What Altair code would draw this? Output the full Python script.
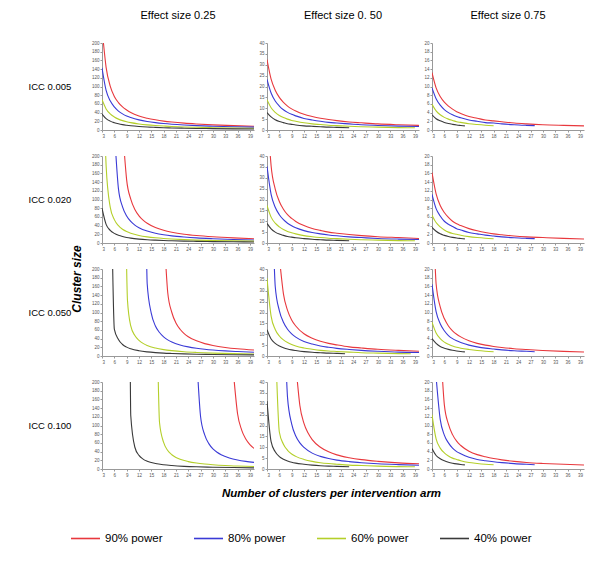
import altair as alt
import pandas as pd

ICC_LABELS = ["ICC 0.005", "ICC 0.020", "ICC 0.050", "ICC 0.100"]
EFFECT_LABELS = ["Effect size 0.25", "Effect size 0. 50", "Effect size 0.75"]
POWER_LABELS = ["90% power", "80% power", "60% power", "40% power"]
COLORS = ["#e8383d", "#3a3ad6", "#b4cf2a", "#3a3a3a"]
Y_MAX = [200, 40, 20]
Y_STEP = [20, 5, 2]
X_TICKS = [3, 6, 9, 12, 15, 18, 21, 24, 27, 30, 33, 36, 39]

# (clusters per arm, cluster size): 90%, 80%, 60%, 40% power
ES025_ICC005 = [
    [(3.35, 200), (4, 144), (5, 101), (6, 77), (7, 63), (8, 53), (9, 46), (10, 40), (12, 32), (14, 27), (16, 23.4), (18, 20.5), (20, 18.3), (23, 15.7), (26, 13.8), (30, 11.8), (35, 10), (40, 8.7)],
    [(3, 143), (4, 91), (5, 67), (6, 53), (7, 43.5), (8, 37), (9, 32), (10, 28.6), (12, 23.3), (14, 19.6), (16, 16.9), (18, 14.9), (20, 13.3), (23, 11.5), (26, 10.1), (30, 8.7), (35, 7.4), (40, 6.5)],
    [(3, 70), (4, 48.5), (5, 37), (6, 30), (7, 25), (8, 21.6), (9, 19), (10, 16.9), (12, 13.9), (14, 11.8), (16, 10.3), (18, 9.1), (20, 8.1), (23, 7), (26, 6.2), (30, 5.3), (35, 4.6), (40, 4)],
    [(3, 36.6), (4, 26.2), (5, 20.4), (6, 16.8), (7, 14.2), (8, 12.3), (9, 10.9), (10, 9.7), (12, 8), (14, 6.8), (16, 6), (18, 5.3), (20, 4.7), (23, 4.1), (26, 3.6), (30, 3.1), (35, 2.7), (40, 2.3)],
]
ES025_ICC020 = [
    [(8.5, 200), (9, 145), (10, 101), (11, 77), (12, 62.5), (13, 52.5), (14, 45.3), (16, 35.5), (18, 29.2), (20, 24.8), (23, 20.2), (26, 17.1), (30, 14.2), (35, 11.7), (40, 9.9)],
    [(6.4, 200), (7, 125), (8, 83), (9, 62), (10, 49.5), (11, 41.2), (12, 35.3), (14, 27.4), (16, 22.4), (18, 19), (20, 16.4), (23, 13.7), (26, 11.7), (30, 9.9), (35, 8.2), (40, 7)],
    [(3.9, 200), (4, 178), (5, 82.5), (6, 53.7), (7, 39.8), (8, 31.6), (9, 26.2), (10, 22.4), (12, 17.3), (14, 14.1), (16, 11.9), (18, 10.3), (20, 9.1), (23, 7.7), (26, 6.7), (30, 5.7), (35, 4.8), (40, 4.2)],
    [(3, 80), (4, 42.7), (5, 29.1), (6, 22.1), (7, 17.8), (8, 14.9), (9, 12.8), (10, 11.2), (12, 9), (14, 7.5), (16, 6.5), (18, 5.7), (20, 5), (23, 4.3), (26, 3.8), (30, 3.2), (35, 2.8), (40, 2.4)],
]
ES025_ICC050 = [
    [(18.6, 200), (19, 146), (20, 100), (21, 76), (22, 61.5), (23, 51.6), (24, 44.4), (26, 34.8), (28, 28.5), (30, 24.2), (33, 19.7), (36, 16.6), (40, 13.8)],
    [(13.9, 200), (14, 166), (15, 98), (16, 69), (17, 54), (18, 44), (19, 37), (20, 32), (22, 25.3), (24, 20.9), (26, 17.8), (28, 15.5), (30, 13.7), (33, 11.7), (36, 10.2), (40, 8.7)],
    [(9.0, 200), (9.2, 128), (10, 69), (11, 47), (12, 36), (13, 29), (14, 24.2), (16, 18.3), (18, 14.7), (20, 12.3), (23, 9.8), (26, 8.2), (30, 6.7), (35, 5.5), (40, 4.6)],
    [(5.6, 200), (6, 62), (7, 38), (8, 26.5), (9, 20.4), (10, 16.6), (12, 12.1), (14, 9.5), (16, 7.8), (18, 6.6), (20, 5.8), (23, 4.8), (26, 4.1), (30, 3.5), (35, 2.9), (40, 2.5)],
]
ES025_ICC100 = [
    [(35.2, 200), (36, 127), (37, 89.5), (38, 69), (39, 56), (40, 47.4)],
    [(26.4, 200), (27, 120), (28, 78.5), (29, 58.3), (30, 46.3), (31, 38.5), (32, 32.9), (34, 25.5), (36, 20.8), (38, 17.6), (40, 15.2)],
    [(16.7, 200), (17, 107), (18, 61), (19, 42.5), (20, 32.7), (21, 26.5), (22, 22.3), (24, 17), (26, 13.7), (28, 11.5), (30, 9.9), (33, 8.1), (36, 6.9), (40, 5.8)],
    [(9.9, 200), (10, 123), (11, 50), (12, 31.3), (13, 22.8), (14, 17.9), (16, 12.6), (18, 9.7), (20, 7.9), (23, 6.1), (26, 5), (30, 4.1), (35, 3.3), (40, 2.7)],
]
ES050_ICC005 = [
    [(3, 32.4), (4, 23.4), (5, 18.3), (6, 15), (7, 12.7), (8, 11), (9, 9.7), (10, 8.7), (12, 7.2), (14, 6.2), (16, 5.4), (18, 4.8), (20, 4.3), (23, 3.7), (26, 3.3), (30, 2.8), (35, 2.4), (40, 2.1)],
    [(3, 23.3), (4, 17), (5, 13.3), (6, 11), (7, 9.3), (8, 8.1), (9, 7.2), (10, 6.5), (12, 5.3), (14, 4.6), (16, 4), (18, 3.5), (20, 3.2), (23, 2.8), (26, 2.4), (30, 2.1), (35, 1.8), (40, 1.6)],
    [(3, 13.9), (4, 10.2), (5, 8.1), (6, 6.7), (7, 5.7), (8, 5), (9, 4.4), (10, 4), (12, 3.3), (14, 2.8), (16, 2.5), (18, 2.2), (20, 2), (23, 1.7), (26, 1.5), (30, 1.3), (35, 1.1), (39, 1)],
    [(3, 8), (4, 6), (5, 4.7), (6, 3.9), (7, 3.4), (8, 2.9), (9, 2.6), (10, 2.3), (12, 1.9), (14, 1.7), (16, 1.5), (18, 1.3), (20, 1.2), (23, 1)],
]
ES050_ICC020 = [
    [(3.8, 40), (4, 35.5), (5, 24.8), (6, 19.1), (7, 15.5), (8, 13), (9, 11.3), (10, 9.9), (12, 8), (14, 6.7), (16, 5.8), (18, 5), (20, 4.5), (23, 3.9), (26, 3.4), (30, 2.9), (35, 2.5), (40, 2.1)],
    [(3, 35.3), (4, 22.4), (5, 16.4), (6, 13), (7, 10.7), (8, 9.1), (9, 7.9), (10, 7), (12, 5.7), (14, 4.8), (16, 4.2), (18, 3.7), (20, 3.3), (23, 2.8), (26, 2.5), (30, 2.1), (35, 1.8), (40, 1.6)],
    [(3, 17.3), (4, 11.9), (5, 9.1), (6, 7.4), (7, 6.2), (8, 5.3), (9, 4.7), (10, 4.2), (12, 3.4), (14, 2.9), (16, 2.5), (18, 2.2), (20, 2), (23, 1.7), (26, 1.5), (30, 1.3), (35, 1.1), (39, 1)],
    [(3, 9), (4, 6.5), (5, 5), (6, 4.1), (7, 3.5), (8, 3), (9, 2.7), (10, 2.4), (12, 2), (14, 1.7), (16, 1.5), (18, 1.3), (20, 1.2), (23, 1)],
]
ES050_ICC050 = [
    [(6.3, 40), (7, 28.6), (8, 21), (9, 16.6), (10, 13.8), (12, 10.2), (14, 8.2), (16, 6.8), (18, 5.8), (20, 5.1), (23, 4.2), (26, 3.7), (30, 3.1), (35, 2.6), (40, 2.2)],
    [(4.8, 40), (5, 32.1), (6, 20.9), (7, 15.5), (8, 12.3), (9, 10.2), (10, 8.7), (12, 6.7), (14, 5.5), (16, 4.6), (18, 4), (20, 3.5), (23, 3), (26, 2.6), (30, 2.2), (35, 1.8), (40, 1.6)],
    [(3, 35.8), (4, 18.3), (5, 12.2), (6, 9.2), (7, 7.4), (8, 6.2), (9, 5.3), (10, 4.6), (12, 3.7), (14, 3.1), (16, 2.6), (18, 2.3), (20, 2.1), (23, 1.8), (26, 1.5), (30, 1.3), (35, 1.1), (38, 1)],
    [(3, 12.1), (4, 7.8), (5, 5.8), (6, 4.6), (7, 3.8), (8, 3.2), (9, 2.8), (10, 2.5), (12, 2), (14, 1.7), (16, 1.5), (18, 1.3), (20, 1.2), (22, 1.05)],
]
ES050_ICC100 = [
    [(10.4, 40), (11, 29.2), (12, 21), (13, 16.5), (14, 13.5), (16, 10), (18, 7.9), (20, 6.5), (23, 5.2), (26, 4.3), (30, 3.5), (35, 2.8), (40, 2.4)],
    [(7.8, 40), (8, 32.8), (9, 20.8), (10, 15.2), (11, 12), (12, 9.9), (14, 7.3), (16, 5.8), (18, 4.8), (20, 4.1), (23, 3.4), (26, 2.9), (30, 2.4), (35, 2), (40, 1.7)],
    [(5.4, 40), (6, 17), (7, 11.4), (8, 8.6), (9, 6.9), (10, 5.8), (12, 4.4), (14, 3.5), (16, 2.9), (18, 2.5), (20, 2.2), (23, 1.8), (26, 1.6), (30, 1.3), (35, 1.1), (39, 1)],
    [(3, 31.3), (4, 12.6), (5, 7.9), (6, 5.7), (7, 4.5), (8, 3.7), (9, 3.1), (10, 2.7), (12, 2.2), (14, 1.8), (16, 1.5), (18, 1.3), (20, 1.2), (23, 1)],
]
ES075_ICC005 = [
    [(3, 13.2), (4, 9.7), (5, 7.7), (6, 6.4), (7, 5.5), (8, 4.8), (9, 4.2), (10, 3.8), (12, 3.1), (14, 2.7), (16, 2.3), (18, 2.1), (20, 1.9), (23, 1.6), (26, 1.4), (30, 1.2), (35, 1.06), (40, 0.95)],
    [(3, 9.7), (4, 7.2), (5, 5.7), (6, 4.7), (7, 4), (8, 3.5), (9, 3.1), (10, 2.8), (12, 2.3), (14, 2), (16, 1.7), (18, 1.6), (20, 1.4), (23, 1.2), (26, 1.07), (28, 1)],
    [(3, 5.9), (4, 4.4), (5, 3.5), (6, 2.9), (7, 2.5), (8, 2.2), (9, 1.9), (10, 1.75), (12, 1.45), (14, 1.25), (16, 1.09), (18, 0.97)],
    [(3, 3.5), (4, 2.6), (5, 2.1), (6, 1.73), (7, 1.48), (8, 1.3), (9, 1.15), (10, 1.04), (11, 0.94)],
]
ES075_ICC020 = [
    [(3, 16.2), (4, 11.3), (5, 8.6), (6, 7), (7, 5.9), (8, 5), (9, 4.4), (10, 4), (12, 3.3), (14, 2.8), (16, 2.4), (18, 2.1), (20, 1.9), (23, 1.6), (26, 1.4), (30, 1.25), (35, 1.07), (40, 0.93)],
    [(3, 11.2), (4, 7.9), (5, 6.2), (6, 5), (7, 4.3), (8, 3.8), (9, 3.3), (10, 3), (12, 2.4), (14, 2.1), (16, 1.8), (18, 1.6), (20, 1.4), (23, 1.2), (26, 1.07), (28, 1)],
    [(3, 6.4), (4, 4.7), (5, 3.7), (6, 3), (7, 2.5), (8, 2.2), (9, 2), (10, 1.77), (12, 1.46), (14, 1.25), (16, 1.09), (18, 0.97)],
    [(3, 3.6), (4, 2.7), (5, 2.1), (6, 1.75), (7, 1.49), (8, 1.3), (9, 1.15), (10, 1.04), (11, 0.94)],
]
ES075_ICC050 = [
    [(3.8, 20), (4, 16.6), (5, 11.3), (6, 8.6), (7, 6.9), (8, 5.8), (9, 5), (10, 4.4), (12, 3.5), (14, 2.9), (16, 2.5), (18, 2.2), (20, 1.96), (23, 1.68), (26, 1.48), (30, 1.27), (35, 1.07), (40, 0.93)],
    [(3, 16.5), (4, 10.2), (5, 7.4), (6, 5.8), (7, 4.7), (8, 4), (9, 3.5), (10, 3.1), (12, 2.5), (14, 2.1), (16, 1.8), (18, 1.6), (20, 1.4), (23, 1.2), (26, 1.08), (28, 0.99)],
    [(3, 7.8), (4, 5.3), (5, 4), (6, 3.2), (7, 2.7), (8, 2.3), (9, 2), (10, 1.8), (12, 1.5), (14, 1.26), (16, 1.09), (18, 0.97)],
    [(3, 4), (4, 2.9), (5, 2.2), (6, 1.8), (7, 1.52), (8, 1.31), (9, 1.16), (10, 1.04), (11, 0.94)],
]
ES075_ICC100 = [
    [(5.6, 20), (6, 14.8), (7, 10.3), (8, 7.9), (9, 6.4), (10, 5.4), (12, 4.1), (14, 3.3), (16, 2.8), (18, 2.4), (20, 2.1), (23, 1.75), (26, 1.5), (30, 1.28), (35, 1.08), (40, 0.93)],
    [(4.1, 20), (5, 11.4), (6, 7.8), (7, 6), (8, 4.8), (9, 4), (10, 3.5), (12, 2.7), (14, 2.2), (16, 1.9), (18, 1.65), (20, 1.46), (23, 1.24), (26, 1.08), (28, 0.99)],
    [(3, 12.5), (4, 6.9), (5, 4.8), (6, 3.7), (7, 3), (8, 2.5), (9, 2.2), (10, 1.9), (12, 1.5), (14, 1.28), (16, 1.1), (18, 0.96)],
    [(3, 4.7), (4, 3.1), (5, 2.35), (6, 1.88), (7, 1.56), (8, 1.34), (9, 1.17), (10, 1.04), (11, 0.94)],
]

PANELS = [
    [ES025_ICC005, ES050_ICC005, ES075_ICC005],
    [ES025_ICC020, ES050_ICC020, ES075_ICC020],
    [ES025_ICC050, ES050_ICC050, ES075_ICC050],
    [ES025_ICC100, ES050_ICC100, ES075_ICC100],
]

FONT = "Liberation Sans"
W, H = 152, 87

records = []
for r in range(4):
    for c in range(3):
        for p, pts in zip(POWER_LABELS, PANELS[r][c]):
            for i, (x, y) in enumerate(pts):
                records.append({"r": r, "c": c, "power": p, "k": x, "m": y, "i": i})
df = pd.DataFrame(records)


def make_panel(r, c):
    d = df[(df.r == r) & (df.c == c)]
    yax = dict(values=list(range(0, Y_MAX[c] + 1, Y_STEP[c])), title=None)
    if c == 0:
        yax.update(title=ICC_LABELS[r], titleAngle=0, titleAlign="left", titleBaseline="middle",
                   titleX=-74, titleY=H / 2, titleFontSize=9.5, titleFontWeight="normal",
                   titleColor="black", titleFont=FONT)
    xax = dict(values=X_TICKS, title=None)
    if r == 3 and c == 1:
        xax.update(title="Number of clusters per intervention arm", titleFontSize=11.5,
                   titleFontWeight="bold", titleFontStyle="italic", titleColor="black",
                   titleFont=FONT, titleX=64, titleY=24, titleBaseline="middle", titleAlign="center")
    legend = None
    if r == 0 and c == 0:
        legend = alt.Legend(orient="none", legendX=-32, legendY=480, direction="horizontal",
                            columns=4, title=None, symbolType="stroke", symbolSize=841,
                            symbolStrokeWidth=1.6, labelFontSize=11.5, labelFont=FONT,
                            labelColor="black", columnPadding=27, labelOffset=4)
    lines = alt.Chart(d).mark_line(strokeWidth=1.1, interpolate="monotone", clip=True).encode(
        x=alt.X("k:Q", scale=alt.Scale(domain=[3, 40], nice=False, zero=False), axis=alt.Axis(**xax)),
        y=alt.Y("m:Q", scale=alt.Scale(domain=[0, Y_MAX[c]], nice=False), axis=alt.Axis(**yax)),
        color=alt.Color("power:N", scale=alt.Scale(domain=POWER_LABELS, range=COLORS), legend=legend),
        order="i:Q",
    )
    props = dict(width=W, height=H)
    if r == 0:
        props["title"] = alt.TitleParams(EFFECT_LABELS[c], fontSize=11, fontWeight="normal",
                                         font=FONT, anchor="middle", offset=19, color="black")
    if r == 2 and c == 0:
        lab = alt.Chart(pd.DataFrame({"t": ["Cluster size"]})).mark_text(
            angle=270, fontSize=12, fontWeight="bold", fontStyle="italic", font=FONT,
            align="center", baseline="middle", color="black"
        ).encode(x=alt.value(-25), y=alt.value(10), text="t:N")
        return alt.layer(lines, lab).properties(**props)
    return lines.properties(**props)


panels = [make_panel(r, c) for r in range(4) for c in range(3)]

chart = alt.concat(*panels, columns=3, spacing={"row": 26, "column": 13}, bounds="flush").resolve_scale(
    x="independent", y="independent", color="shared"
).properties(
    padding={"left": 20, "top": 2, "right": 2, "bottom": 2}
).configure_view(stroke=None).configure_axis(
    labelFontSize=4.5, labelColor="#555", labelFont=FONT, tickSize=2, tickColor="#999",
    domainColor="#999", grid=False, labelPadding=1
)

chart.save("out.html", embed_options={"renderer": "svg", "actions": False})
